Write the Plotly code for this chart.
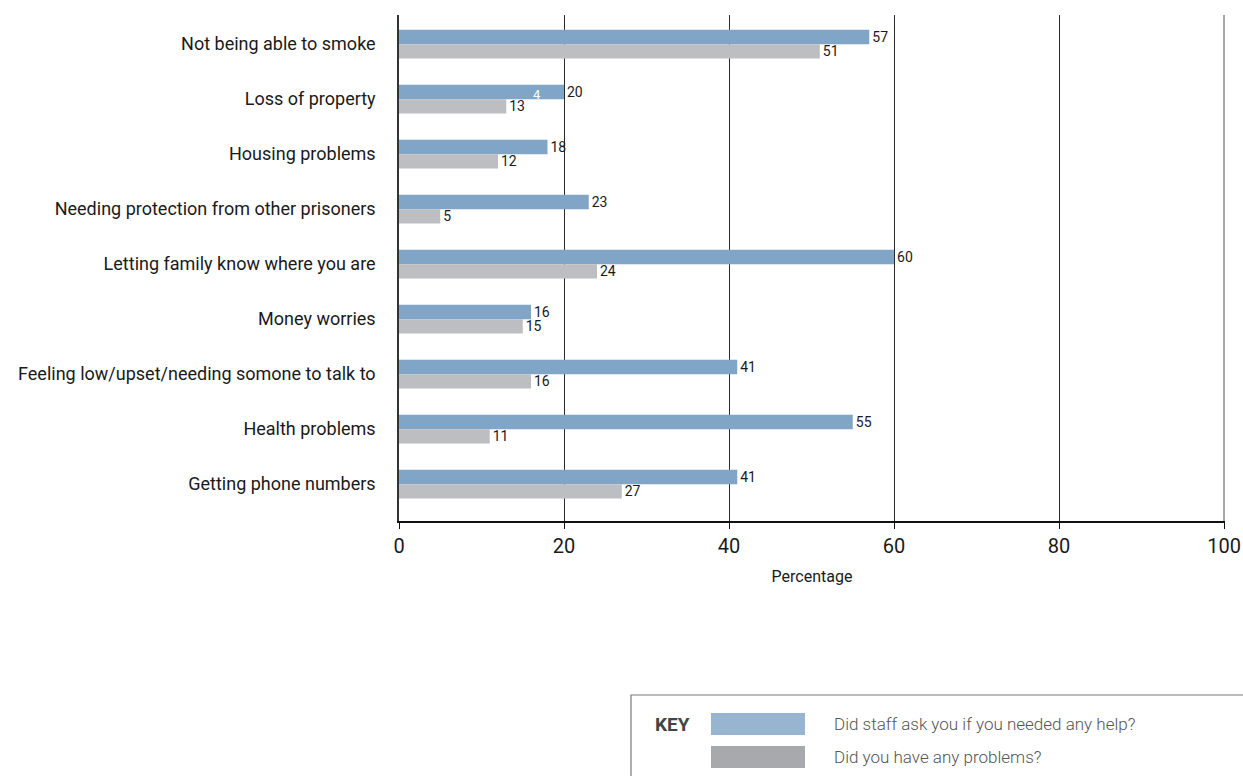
import plotly.graph_objects as go

# Survey categories, top to bottom
categories = [
    "Not being able to smoke",
    "Loss of property",
    "Housing problems",
    "Needing protection from other prisoners",
    "Letting family know where you are",
    "Money worries",
    "Feeling low/upset/needing somone to talk to",
    "Health problems",
    "Getting phone numbers",
]
staff_asked = [57, 20, 18, 23, 60, 16, 41, 55, 41]
had_problems = [51, 13, 12, 5, 24, 15, 16, 11, 27]

x_ticks = [0, 20, 40, 60, 80, 100]

series_names = [
    "Did staff ask you if you needed any help?",
    "Did you have any problems?",
]

BLUE = "#80A5C7"
GREY = "#BDBEC2"
KEY_BLUE = "#97B5D1"
KEY_GREY = "#A8A9AC"
FONT = "Roboto, Liberation Sans, sans-serif"

W, H = 1243, 776
ML, MR, MT, MB = 399, 18, 15, 255
PW, PH = W - ML - MR, H - MT - MB


def px(x):
    return (x - ML) / PW


def py(y):
    return (H - MB - y) / PH


fig = go.Figure()
for vals, name, col in [(staff_asked, series_names[0], BLUE),
                        (had_problems, series_names[1], GREY)]:
    fig.add_trace(go.Bar(
        y=categories, x=vals, orientation="h", name=name,
        marker=dict(color=col, line=dict(width=0)),
        text=[str(v) for v in vals], textposition="outside",
        constraintext="none",
        textfont=dict(family=FONT, size=14, color="#1a1a1a"),
        cliponaxis=False,
    ))

fig.update_layout(
    width=W, height=H,
    margin=dict(l=ML, r=MR, t=MT, b=MB, pad=0, autoexpand=False),
    paper_bgcolor="white", plot_bgcolor="white",
    barmode="group", bargap=0.48, bargroupgap=0,
    showlegend=False,
    font=dict(family=FONT, color="#1a1a1a"),
    xaxis=dict(
        range=[0, 100.12], tickvals=x_ticks, ticktext=[str(t) for t in x_ticks],
        showgrid=True, gridcolor="#2a2a2a", gridwidth=1,
        showline=True, linecolor="#111", linewidth=1.5,
        ticks="outside", ticklen=6, tickcolor="#111",
        tickfont=dict(family=FONT, size=20, color="#1a1a1a"),
        zeroline=False, automargin=False,
        title=dict(text="Percentage", font=dict(family=FONT, size=16, color="#1a1a1a"), standoff=14),
    ),
    yaxis=dict(
        type="category", categoryorder="array", categoryarray=categories,
        range=[len(categories) - 1 + 0.67, -0.53],
        showline=True, linecolor="#333", linewidth=1.5,
        showgrid=False, zeroline=False, ticks="",
        ticklabelstandoff=18, automargin=False,
        tickfont=dict(family=FONT, size=18, color="#1a1a1a"),
    ),
)

# Gridline at the right end of the scale
fig.add_shape(type="line", xref="x", yref="paper", x0=x_ticks[-1], x1=x_ticks[-1],
              y0=0, y1=1, line=dict(color="#555", width=1), layer="below")

# Stray digit printed inside the "Loss of property" bar
fig.add_annotation(x=16.7, y=categories[1], text="4", showarrow=False,
                   yshift=5, font=dict(family=FONT, size=13, color="white"))

# Key box
fig.add_shape(type="rect", xref="paper", yref="paper",
              x0=px(631), x1=px(1260), y0=py(800), y1=py(695),
              line=dict(color="#7a7a7a", width=1.2), fillcolor="white", layer="above")
fig.add_annotation(xref="paper", yref="paper", x=px(653), y=py(724), xanchor="left",
                   yanchor="middle", text="<b>KEY</b>", showarrow=False,
                   font=dict(family=FONT, size=19, color="#444"))
for i, (name, col) in enumerate(zip(series_names, [KEY_BLUE, KEY_GREY])):
    top = 713 + i * 33
    fig.add_shape(type="rect", xref="paper", yref="paper",
                  x0=px(711), x1=px(805), y0=py(top + 22), y1=py(top),
                  line=dict(width=0), fillcolor=col, layer="above")
    fig.add_annotation(xref="paper", yref="paper", x=px(832), y=py(top + 11),
                       xanchor="left", yanchor="middle", text=name, showarrow=False,
                       font=dict(family=FONT, size=17, color="#555", weight=300))

fig.write_html("out.html")
